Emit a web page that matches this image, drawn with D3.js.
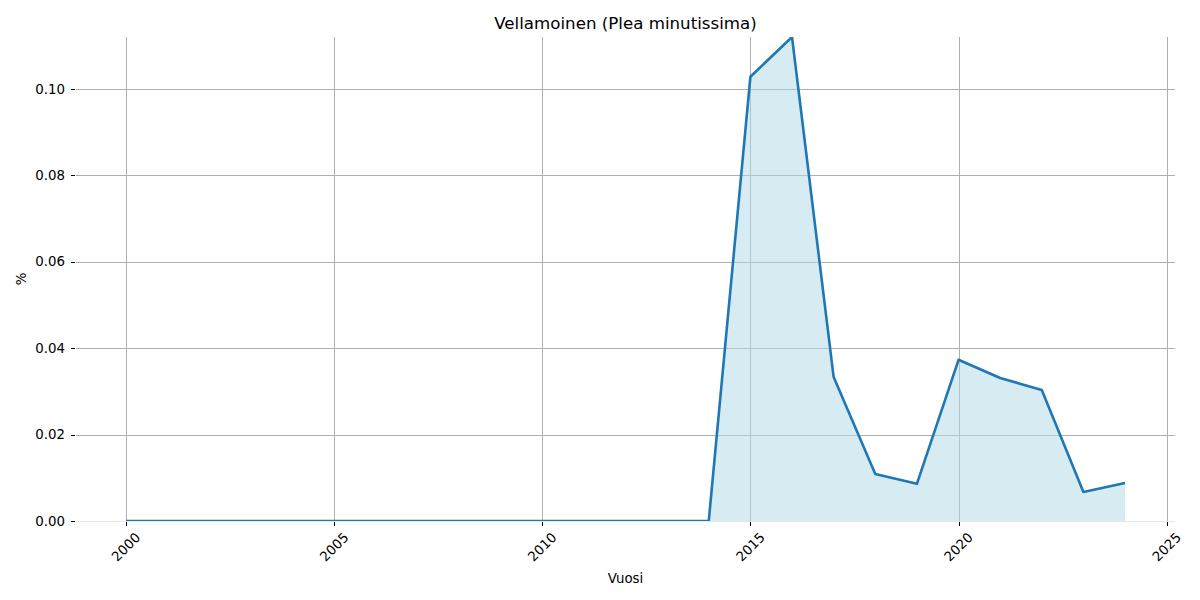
<!DOCTYPE html>
<html><head><meta charset="utf-8">
<script src="https://cdn.jsdelivr.net/npm/d3@7"></script>
<style>body{margin:0;background:#fff}text{font-family:"DejaVu Sans",sans-serif}</style>
</head><body><svg id="c" width="1200" height="600"></svg>
<script>
const years = [2000,2001,2002,2003,2004,2005,2006,2007,2008,2009,2010,2011,2012,2013,2014,2015,2016,2017,2018,2019,2020,2021,2022,2023,2024];
const values = [0,0,0,0,0,0,0,0,0,0,0,0,0,0,0,0.1028,0.1120,0.0333,0.0109,0.0086,0.0373,0.0331,0.0303,0.0067,0.0088];
const xTicks = [2000,2005,2010,2015,2020,2025];
const yTicks = [0,0.02,0.04,0.06,0.08,0.10];
const title = "Vellamoinen (Plea minutissima)";

const svg = d3.select("#c");
const L=76,R=1175,T=37,B=521;
const x = d3.scaleLinear().domain([1998.8,2025.2]).range([L,R]);
const y = d3.scaleLinear().domain([0,0.112]).range([B,T]);
const data = years.map((d,i)=>({x:d,y:values[i]}));
const snap = v => Math.round(v)+0.5;

svg.append("clipPath").attr("id","clip").append("rect").attr("x",L).attr("y",T).attr("width",R-L).attr("height",B-T);

// grid
svg.append("g").selectAll("line").data(xTicks).join("line")
  .attr("x1",d=>snap(x(d))).attr("x2",d=>snap(x(d))).attr("y1",T).attr("y2",B)
  .attr("stroke","#b0b0b0").attr("stroke-width",1);
svg.append("g").selectAll("line").data(yTicks).join("line")
  .attr("x1",L).attr("x2",R).attr("y1",d=>snap(y(d))).attr("y2",d=>snap(y(d)))
  .attr("stroke","#b0b0b0").attr("stroke-width",1).attr("stroke-opacity",d=>d===0?0.3:1);

// area + line
const g = svg.append("g").attr("clip-path","url(#clip)");
g.append("path").datum(data)
  .attr("d",d3.area().x(d=>x(d.x)).y0(y(0)).y1(d=>y(d.y)))
  .attr("fill","#add8e6").attr("fill-opacity",0.5);
g.append("path").datum(data)
  .attr("d",d3.line().x(d=>x(d.x)).y(d=>y(d.y)))
  .attr("fill","none").attr("stroke","#1f77b4").attr("stroke-width",2.6).attr("stroke-linejoin","round");

// ticks
svg.append("g").selectAll("line").data(yTicks).join("line")
  .attr("x1",L-5).attr("x2",L-1).attr("y1",d=>snap(y(d))).attr("y2",d=>snap(y(d)))
  .attr("stroke","#000").attr("stroke-width",1);
svg.append("g").selectAll("text").data(yTicks).join("text")
  .attr("x",L-11).attr("y",d=>y(d)).attr("dy","0.35em").attr("text-anchor","end")
  .attr("font-size",13.33).text(d=>d3.format(".2f")(d));
svg.append("g").selectAll("line").data(xTicks).join("line")
  .attr("x1",d=>snap(x(d))).attr("x2",d=>snap(x(d))).attr("y1",B+1).attr("y2",B+5)
  .attr("stroke","#000").attr("stroke-width",1);
svg.append("g").selectAll("text").data(xTicks).join("text")
  .attr("transform",d=>`translate(${x(d)},547) rotate(-45)`)
  .attr("text-anchor","middle").attr("dy","0.35em")
  .attr("font-size",13.33).text(d=>d);

// labels
svg.append("text").attr("x",(L+R)/2).attr("y",583).attr("text-anchor","middle").attr("font-size",13.33).text("Vuosi");
svg.append("text").attr("transform",`translate(26,${(T+B)/2}) rotate(-90)`).attr("text-anchor","middle").attr("font-size",13.33).text("%");
svg.append("text").attr("x",(L+R)/2).attr("y",29).attr("text-anchor","middle").attr("font-size",16.67).text(title);
</script></body></html>
